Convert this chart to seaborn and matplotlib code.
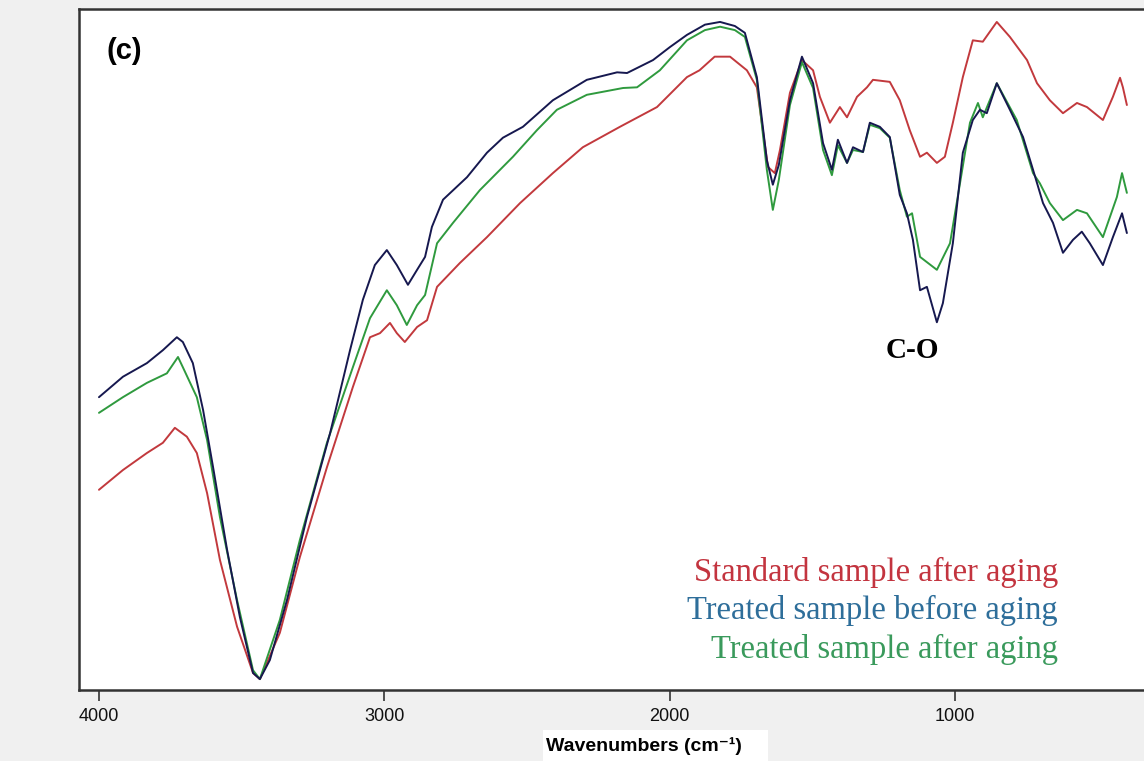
import numpy as np
import pandas as pd
import matplotlib
matplotlib.use("Agg")
import matplotlib.pyplot as plt
from matplotlib.patches import Rectangle
import seaborn as sns

# ---------------- data ----------------
wn_treated_before = [4000, 3916, 3832, 3776, 3727, 3706, 3671, 3635, 3600, 3551, 3506, 3460, 3436,
                     3401, 3341, 3271, 3190, 3120, 3075, 3033, 2991, 2956, 2917, 2885, 2857, 2833,
                     2794, 2710, 2640, 2584, 2514, 2409, 2290, 2184, 2149, 2058, 1999, 1939, 1876,
                     1823, 1771, 1736, 1694, 1659, 1638, 1617, 1578, 1536, 1497, 1462, 1431, 1410,
                     1378, 1357, 1322, 1298, 1263, 1228, 1193, 1168, 1147, 1122, 1098, 1063, 1042,
                     1007, 972, 937, 912, 888, 853, 807, 761, 726, 691, 656, 621, 586, 555, 527,
                     481, 446, 414, 397]
t_treated_before = [43.0, 46.0, 48.0, 49.9, 51.8, 51.1, 48.0, 41.1, 32.7, 20.6, 10.7, 2.5, 1.6,
                    4.4, 13.2, 25.4, 37.7, 49.9, 57.3, 62.4, 64.6, 62.4, 59.5, 61.7, 63.6, 68.0,
                    72.0, 75.3, 78.9, 81.1, 82.7, 86.6, 89.6, 90.7, 90.6, 92.5, 94.4, 96.2, 97.7,
                    98.1, 97.5, 96.5, 90.0, 77.8, 74.2, 77.1, 86.6, 93.0, 89.1, 80.3, 76.4, 80.8,
                    77.4, 79.7, 79.0, 83.3, 82.7, 81.2, 72.7, 70.0, 66.1, 58.7, 59.2, 54.0, 56.8,
                    65.6, 78.9, 83.7, 85.2, 84.7, 89.1, 85.2, 81.2, 76.4, 71.5, 68.6, 64.2, 66.1,
                    67.3, 65.6, 62.4, 66.5, 70.0, 67.1]

wn_treated_after = [4000, 3916, 3832, 3762, 3723, 3706, 3657, 3621, 3576, 3516, 3460, 3436, 3366,
                    3296, 3201, 3110, 3050, 2991, 2956, 2921, 2885, 2857, 2815, 2759, 2665, 2549,
                    2465, 2395, 2290, 2163, 2114, 2034, 1939, 1876, 1823, 1771, 1736, 1694, 1659,
                    1638, 1617, 1578, 1536, 1497, 1462, 1431, 1410, 1378, 1357, 1322, 1298, 1263,
                    1228, 1193, 1168, 1150, 1122, 1063, 1017, 982, 947, 919, 902, 853, 783, 726,
                    702, 667, 621, 572, 537, 481, 432, 414, 397]
t_treated_after = [40.7, 43.0, 45.1, 46.5, 48.9, 47.4, 43.0, 36.7, 25.4, 13.2, 2.9, 1.6, 10.3,
                   22.0, 36.3, 47.4, 54.6, 58.7, 56.5, 53.6, 56.5, 58.0, 65.6, 68.6, 73.4, 78.3,
                   82.2, 85.2, 87.4, 88.4, 88.5, 91.0, 95.4, 96.9, 97.4, 96.9, 95.9, 89.6, 76.4,
                   70.5, 74.9, 85.9, 92.2, 88.4, 79.3, 75.6, 80.0, 77.4, 79.3, 79.0, 83.0, 82.5,
                   81.1, 73.4, 69.5, 70.0, 63.6, 61.7, 65.6, 74.4, 83.3, 86.2, 84.1, 89.1, 83.7,
                   75.9, 74.4, 71.5, 69.0, 70.5, 70.0, 66.5, 72.4, 75.9, 73.0]

wn_standard_after = [4000, 3916, 3832, 3776, 3734, 3692, 3657, 3621, 3576, 3516, 3460, 3436, 3366,
                     3296, 3201, 3110, 3050, 3015, 2980, 2956, 2928, 2885, 2850, 2815, 2735, 2640,
                     2524, 2409, 2304, 2174, 2044, 1939, 1895, 1842, 1788, 1729, 1694, 1655, 1631,
                     1613, 1578, 1536, 1497, 1473, 1438, 1403, 1378, 1343, 1308, 1287, 1228, 1193,
                     1158, 1122, 1098, 1063, 1035, 1007, 972, 937, 902, 853, 807, 747, 712, 667,
                     621, 572, 537, 481, 446, 421, 411, 397]
t_standard_after = [29.4, 32.3, 34.8, 36.3, 38.5, 37.2, 34.8, 28.9, 19.1, 9.3, 2.5, 1.6, 8.4,
                    19.5, 32.7, 44.5, 51.8, 52.4, 53.9, 52.4, 51.1, 53.3, 54.3, 59.2, 62.7, 66.5,
                    71.5, 75.9, 79.7, 82.7, 85.6, 90.0, 91.0, 93.0, 93.0, 91.0, 88.5, 76.8, 75.9,
                    79.3, 87.7, 92.5, 91.0, 87.1, 83.3, 85.6, 84.1, 87.1, 88.5, 89.6, 89.3, 86.6,
                    82.2, 78.3, 78.9, 77.4, 78.3, 83.3, 90.0, 95.4, 95.2, 98.1, 95.9, 92.5, 89.1,
                    86.6, 84.7, 86.2, 85.6, 83.7, 87.1, 89.9, 88.5, 85.9]

series_names = ["Standard sample after aging", "Treated sample after aging", "Treated sample before aging"]
line_colors = {"Standard sample after aging": "#c2393d",
               "Treated sample after aging": "#2f9a3e",
               "Treated sample before aging": "#16184f"}
legend_colors = {"Standard sample after aging": "#c3343f",
                 "Treated sample before aging": "#2e6e9a",
                 "Treated sample after aging": "#3a9a5c"}
legend_order = ["Standard sample after aging", "Treated sample before aging", "Treated sample after aging"]
x_ticks = [4000, 3000, 2000, 1000]
x_label = "Wavenumbers (cm\u207b\u00b9)"
panel_label = "(c)"
peak_label = "C-O"

frames = []
for name, wn, t in [(series_names[0], wn_standard_after, t_standard_after),
                    (series_names[1], wn_treated_after, t_treated_after),
                    (series_names[2], wn_treated_before, t_treated_before)]:
    frames.append(pd.DataFrame({"wavenumber": wn, "T": t, "sample": name}))
df = pd.concat(frames, ignore_index=True)

# ---------------- plotting ----------------
sns.set_theme(style="white")
plt.rcParams["font.family"] = ["Liberation Sans", "DejaVu Sans"]

W, H = 1144, 761
fig = plt.figure(figsize=(W / 100, H / 100), dpi=100, facecolor="#f0f0f0")
ax = fig.add_axes([79 / W, 71 / H, 1 - 79 / W, (690 - 9) / H])
ax.set_facecolor("white")

sns.lineplot(data=df, x="wavenumber", y="T", hue="sample", hue_order=series_names,
             palette=line_colors, estimator=None, sort=False, linewidth=1.4,
             legend=False, ax=ax)

ax.set_xlim(4070, 337)
ax.set_ylim(0, 100)
ax.set_xticks(x_ticks)
ax.set_xticklabels([str(v) for v in x_ticks],
                   fontdict={"family": ["Liberation Sans", "DejaVu Sans"], "size": 13})
ax.set_yticks([])
ax.set_xlabel("")
ax.set_ylabel("")
ax.tick_params(axis="x", direction="out", length=8, width=1.2, color="#333333",
               bottom=True, pad=5, labelcolor="#111111")

for s in ["left", "top", "bottom"]:
    ax.spines[s].set_visible(True)
    ax.spines[s].set_color("#333333")
    ax.spines[s].set_linewidth(1.8)
ax.spines["right"].set_visible(False)

# panel label
fig.text(106 / W, 1 - 51 / H, panel_label, fontsize=21, fontweight="bold",
         ha="left", va="center", color="black")

# peak label
ax.text(1150, 49.9, peak_label, fontsize=21, fontweight="bold",
        family=["Liberation Serif", "DejaVu Serif"], ha="center", va="center", color="black")

# legend text (coloured text, right aligned)
for i, name in enumerate(legend_order):
    fig.text(1058 / W, 1 - (572 + i * 38.5) / H, name, fontsize=23.5,
             family=["Liberation Serif", "DejaVu Serif"], color=legend_colors[name],
             ha="right", va="center")

# x label on white box
fig.patches.append(Rectangle((543 / W, 0), (768 - 543) / W, 31 / H, transform=fig.transFigure,
                             facecolor="white", edgecolor="none", zorder=1))
fig.text(644 / W, 1 - 746 / H, x_label, fontsize=14, fontweight="bold",
         ha="center", va="center", color="black", zorder=2)

fig.savefig("out.png", dpi=100, facecolor=fig.get_facecolor())
